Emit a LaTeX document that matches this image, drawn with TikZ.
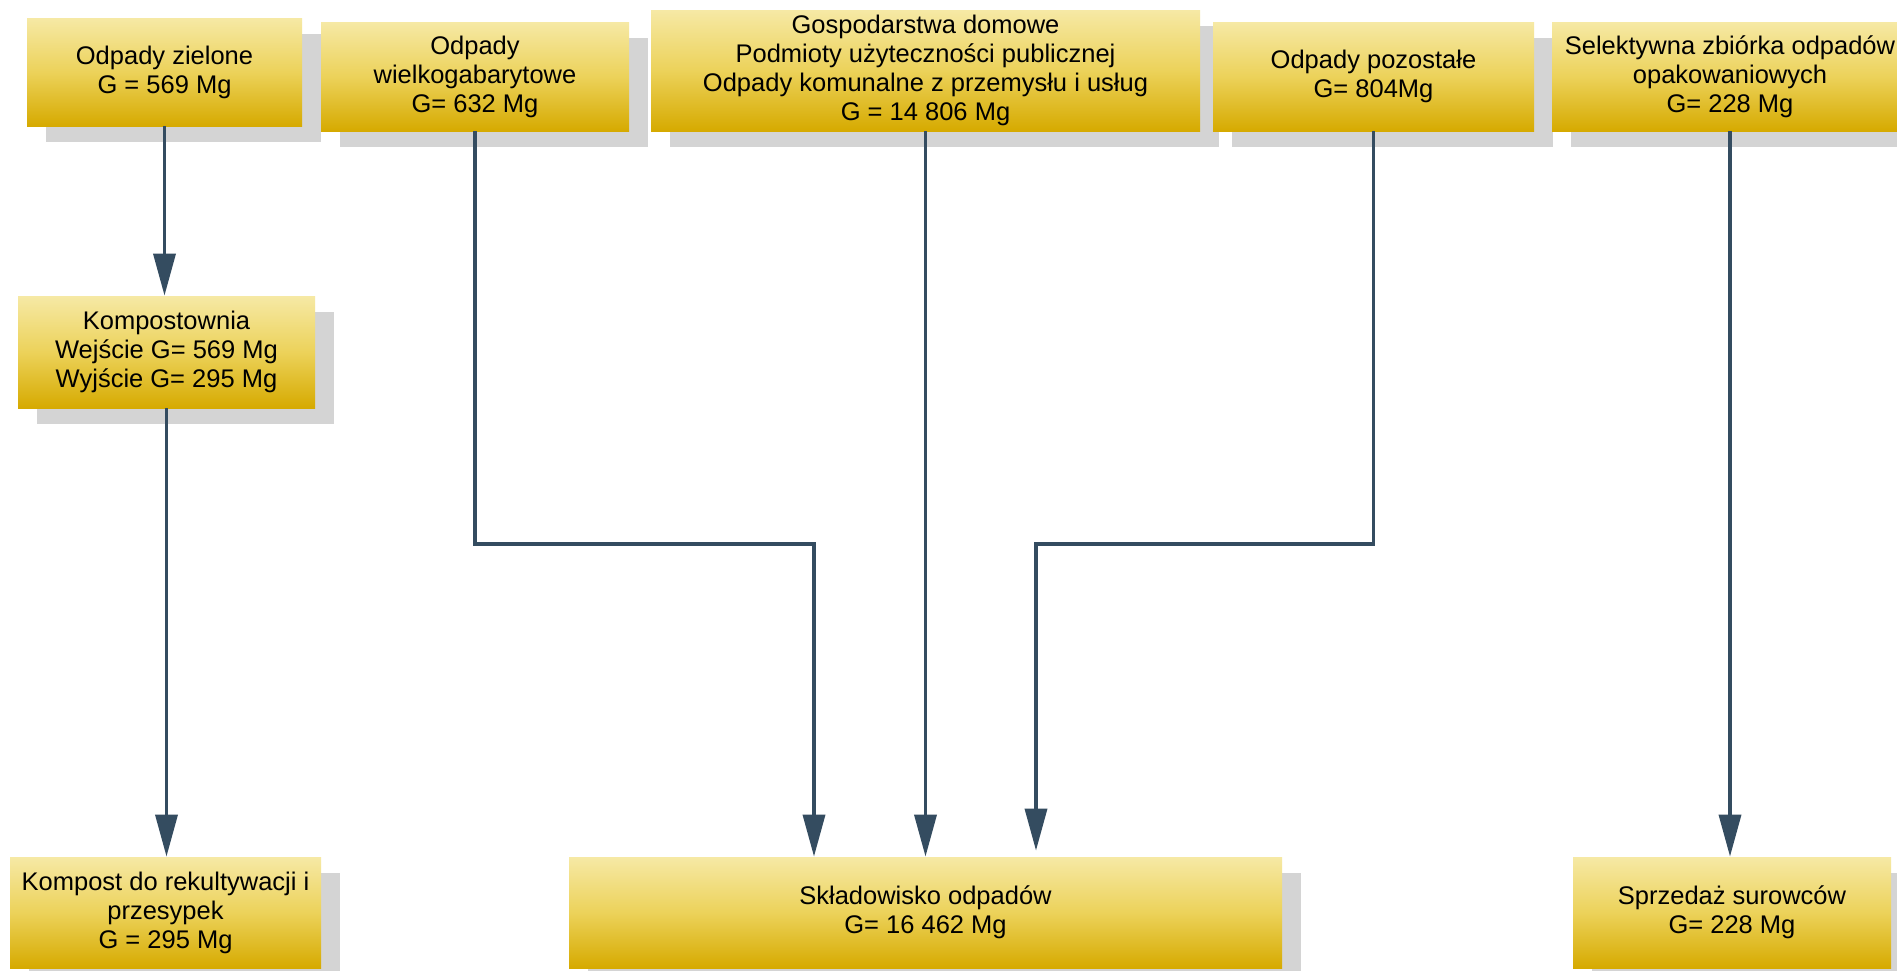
\documentclass[tikz,border=0pt]{standalone}
\usepackage{fontspec}
\setmainfont{Liberation Sans}
\usetikzlibrary{arrows.meta}
\definecolor{shadowc}{RGB}{212,212,212}
\definecolor{ytop}{RGB}{246,233,165}
\definecolor{ymid}{RGB}{236,210,90}
\definecolor{ybot}{RGB}{214,170,0}
\definecolor{linec}{RGB}{52,76,96}
\tikzset{
  bw/.style={minimum width=#1*0.5pt},
  bh/.style={minimum height=#1*0.5pt},
  box/.style={rectangle, inner sep=0pt, align=center,
    top color=ytop, bottom color=ybot, middle color=ymid,
    preaction={fill=shadowc, transform canvas={xshift=9.5pt,yshift=-8pt}},
    font=\fontsize{12.75pt}{14.5pt}\selectfont},
  flow/.style={draw=linec, line width=1.8pt,
    -{Triangle[length=21pt,width=11pt]}}
}
\begin{document}
\begin{tikzpicture}[x=0.5pt,y=-0.5pt]
\clip (0,0) rectangle (1897,970);
\useasboundingbox (0,0) rectangle (1897,970);
\fill[white] (0,0) rectangle (1897,970);
% top row
\node[box,bw=275,bh=108] (b1) at (164.5,72) {Odpady zielone\\G = 569 Mg};
\node[box,bw=308,bh=109] (b2) at (475,76.5) {Odpady\\wielkogabarytowe\\G= 632 Mg};
\node[box,bw=549,bh=121] (b3) at (925.5,70.5) {Gospodarstwa domowe\\Podmioty użyteczności publicznej\\Odpady komunalne z przemysłu i usług\\G = 14 806 Mg};
\node[box,bw=321,bh=109] (b4) at (1373.5,76.5) {Odpady pozostałe\\G= 804Mg};
\node[box,bw=356,bh=109] (b5) at (1730,76.5) {Selektywna zbiórka odpadów\\opakowaniowych\\G= 228 Mg};
% middle
\node[box,bw=297,bh=112] (k1) at (166.5,352) {Kompostownia\\Wejście G= 569 Mg\\Wyjście G= 295 Mg};
% bottom row
\node[box,bw=311,bh=111] (k2) at (165.5,912.5) {Kompost do rekultywacji i\\przesypek\\G = 295 Mg};
\node[box,bw=713,bh=111] (sk) at (925.5,912.5) {Składowisko odpadów\\G= 16 462 Mg};
\node[box,bw=318,bh=111] (sp) at (1732,912.5) {Sprzedaż surowców\\G= 228 Mg};
% connectors
\coordinate (eL) at (814,544);
\coordinate (eR) at (1036,544);
\draw[flow] (b1.south) -- (b1.south |- k1.north);
\draw[flow] (k1.south) -- (k1.south |- k2.north);
\draw[flow] (b2.south) |- (eL) -- (eL |- sk.north);
\draw[flow] (b3.south) -- (b3.south |- sk.north);
\draw[flow,shorten >=3pt] (b4.south) |- (eR) -- (eR |- sk.north);
\draw[flow] (b5.south) -- (b5.south |- sp.north);
\end{tikzpicture}
\end{document}
